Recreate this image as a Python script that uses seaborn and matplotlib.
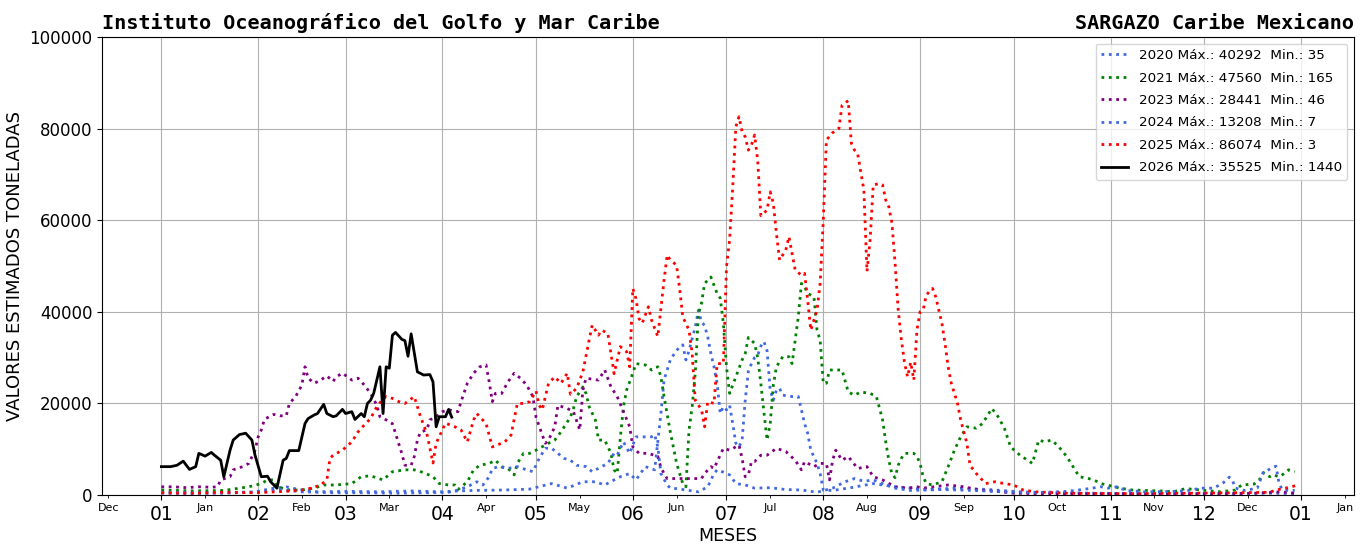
import pandas as pd
import numpy as np
import seaborn as sns
import matplotlib.pyplot as plt
import matplotlib.dates as mdates

# (day of year, estimated tonnes), day 0 = 1 Jan
s2020 = [(0, 400), (10, 300), (20, 500), (30, 700), (36, 1500), (40, 1800), (44, 1200), (50, 700),
         (60, 800), (70, 700), (80, 900), (90, 700), (95, 900), (100, 1000), (110, 1100), (118, 1300),
         (122, 2000), (125, 2500), (130, 1500), (135, 2900), (139, 2900), (142, 2200), (145, 3300),
         (147, 4000), (150, 4700), (152, 3300), (155, 6200), (158, 5500), (160, 17800), (161, 25100),
         (163, 29500), (165, 31600), (167, 32800), (168, 29500), (169, 31500), (171, 36700), (172, 40300),
         (173, 37800), (174, 37000), (175, 34500), (176, 30900), (177, 28000), (178, 24400), (179, 17800),
         (180, 19300), (181, 18600), (182, 19600), (183, 15600), (184, 11300), (185, 10500), (186, 12000),
         (187, 20700), (188, 27000), (189, 28700), (190, 30000), (191, 30500), (192, 32500), (193, 33500),
         (194, 31500), (195, 22900), (196, 20700), (197, 22900), (198, 23300), (199, 21800), (202, 21500),
         (204, 21500), (205, 18600), (206, 15600), (207, 13500), (208, 9800), (210, 6900), (211, 4700),
         (212, 1100), (215, 1000), (220, 1500), (228, 2500), (235, 1800), (245, 1200), (255, 1500),
         (265, 1200), (275, 700), (285, 500), (300, 400), (320, 300), (340, 300), (355, 400), (363, 300)]

s2021 = [(0, 1100), (10, 900), (20, 1000), (28, 1800), (32, 2500), (34, 3300), (36, 3300), (37, 1800),
         (41, 1100), (45, 1100), (49, 1500), (52, 2200), (56, 2200), (61, 2500), (64, 4000), (67, 4200),
         (71, 3300), (74, 5100), (78, 5500), (81, 5500), (84, 4900), (87, 4000), (89, 2500), (92, 2200),
         (94, 2200), (95, 1200), (98, 2900), (100, 5500), (102, 6500), (105, 6900), (107, 7600), (109, 6200),
         (111, 5800), (113, 4400), (114, 6900), (116, 9100), (118, 9100), (120, 9800), (124, 11300),
         (126, 12000), (128, 13800), (131, 17000), (132, 18900), (133, 21500), (135, 23600), (136, 22200),
         (137, 19300), (139, 16400), (140, 12000), (142, 12000), (144, 9100), (145, 5500), (146, 4700),
         (147, 12500), (148, 19300), (149, 22900), (151, 26600), (152, 28700), (155, 28400), (157, 27300),
         (159, 28000), (160, 25800), (161, 21500), (163, 13800), (165, 7000), (166, 4700), (167, 2500),
         (168, 1800), (169, 14200), (170, 19300), (171, 26600), (172, 39500), (173, 41900), (174, 46200),
         (176, 47600), (178, 44000), (179, 43000), (180, 37500), (181, 28000), (182, 22200), (184, 25800),
         (186, 29500), (187, 30900), (188, 34400), (190, 33100), (191, 30000), (192, 24400), (193, 18000),
         (194, 12000), (195, 15600), (196, 24000), (197, 28000), (199, 30200), (201, 30200), (202, 28700),
         (203, 33800), (204, 38900), (205, 46200), (206, 45500), (207, 44000), (209, 43300), (210, 36000),
         (211, 33800), (212, 24400), (213, 24400), (214, 27300), (218, 27300), (220, 22500), (222, 21800),
         (224, 22500), (227, 22200), (229, 21500), (230, 19000), (231, 16400), (232, 11600), (233, 7600),
         (234, 4500), (235, 3800), (236, 6500), (237, 8000), (238, 9100), (241, 9100), (242, 8400),
         (243, 6900), (244, 4000), (245, 2500), (247, 2200), (250, 2900), (252, 6200), (254, 9800),
         (256, 12700), (258, 14900), (261, 14600), (263, 15600), (266, 18900), (268, 17100), (270, 14600),
         (272, 10500), (275, 8700), (279, 6900), (281, 12000), (283, 11600), (285, 12000), (287, 10900),
         (290, 8400), (292, 6200), (294, 4000), (297, 3600), (300, 2900), (301, 2500), (304, 2000),
         (307, 1500), (311, 1100), (320, 900), (324, 700), (328, 1400), (333, 1100), (339, 700), (344, 1100),
         (346, 2200), (350, 2400), (352, 3600), (353, 4900), (355, 4000), (356, 4400), (358, 4000),
         (359, 4400), (361, 5500), (363, 5100)]

s2023 = [(0, 1800), (4, 1800), (8, 1600), (12, 1800), (16, 1700), (18, 1800), (19, 3300), (22, 4000),
         (23, 5500), (26, 6200), (28, 6900), (30, 9800), (31, 12700), (32, 14200), (33, 16500), (35, 17300),
         (36, 17600), (38, 17300), (40, 17300), (41, 20000), (43, 21500), (45, 24000), (46, 28000),
         (47, 25500), (49, 24400), (51, 25100), (53, 26000), (55, 24800), (56, 25800), (58, 26600),
         (61, 25100), (63, 25500), (65, 24000), (67, 22200), (69, 19600), (70, 17100), (72, 16400),
         (74, 15600), (76, 11300), (77, 9100), (78, 6500), (80, 6500), (81, 8400), (82, 12000), (83, 13800),
         (85, 14200), (86, 16400), (88, 17100), (90, 18200), (92, 18600), (95, 18200), (96, 20400),
         (98, 24400), (100, 26600), (102, 28000), (104, 28400), (105, 24700), (106, 20400), (107, 22200),
         (109, 22200), (111, 24700), (113, 26600), (115, 25500), (117, 24000), (119, 21500), (120, 17000),
         (122, 13100), (123, 11300), (124, 12000), (126, 14900), (127, 19600), (130, 18900), (132, 18200),
         (134, 14200), (135, 22900), (136, 25500), (140, 25100), (142, 27300), (144, 23600), (146, 21500),
         (148, 18200), (150, 14900), (151, 10500), (153, 9100), (156, 9100), (159, 8400), (160, 6000),
         (161, 4700), (162, 3600), (164, 3600), (168, 3600), (173, 3600), (174, 4700), (176, 6200),
         (177, 5800), (180, 10200), (182, 9800), (185, 10900), (186, 8000), (187, 4000), (188, 4400),
         (189, 7300), (190, 7300), (192, 8700), (194, 8700), (197, 10200), (200, 9500), (203, 7600),
         (205, 5500), (206, 7300), (209, 6200), (211, 6900), (213, 6900), (214, 3300), (215, 7600),
         (216, 9800), (218, 7600), (220, 8400), (223, 5800), (226, 6200), (228, 4000), (231, 3300),
         (235, 1800), (239, 1500), (242, 1800), (244, 1500), (252, 2200), (257, 1800), (262, 1100),
         (269, 700), (273, 400), (280, 300), (300, 250), (320, 300), (340, 300), (350, 400), (358, 700),
         (362, 500), (364, 300)]

s2024 = [(0, 600), (10, 500), (20, 400), (30, 600), (38, 1200), (45, 700), (55, 500), (65, 500), (75, 400),
         (85, 500), (92, 600), (95, 1100), (98, 1800), (101, 2900), (103, 2200), (105, 4000), (106, 5800),
         (108, 6200), (111, 5800), (114, 6200), (117, 5500), (119, 5100), (121, 8000), (123, 10200),
         (125, 10200), (127, 9100), (129, 8000), (131, 7600), (133, 6500), (136, 6200), (138, 5100),
         (141, 6200), (143, 6900), (145, 9100), (146, 8700), (148, 11600), (150, 9100), (152, 12700),
         (154, 12700), (157, 12700), (158, 13200), (159, 10500), (160, 4700), (162, 2200), (163, 1500),
         (165, 1400), (168, 1100), (172, 700), (175, 1800), (177, 4700), (178, 5500), (180, 5000),
         (182, 4400), (184, 2500), (187, 2200), (190, 1500), (195, 1600), (200, 1200), (205, 1100),
         (210, 600), (215, 1500), (219, 2900), (222, 3600), (225, 3000), (228, 3300), (231, 2500),
         (235, 1500), (240, 1000), (250, 1200), (260, 1000), (270, 700), (280, 500), (290, 800), (295, 1200),
         (301, 1800), (303, 1500), (306, 1800), (309, 1000), (315, 700), (325, 800), (329, 1000),
         (333, 1500), (337, 1500), (340, 2600), (342, 3900), (343, 3300), (344, 1500), (347, 1000),
         (351, 1500), (353, 5100), (354, 5300), (356, 6000), (357, 6300), (358, 2500), (359, 1200),
         (361, 1000), (363, 1000)]

s2025 = [(0, 500), (10, 400), (20, 600), (30, 500), (40, 800), (45, 1100), (48, 1500), (51, 2200), (53, 3300),
         (54, 8000), (55, 8700), (58, 9800), (61, 11600), (63, 13800), (65, 15300), (67, 16700), (69, 19300),
         (71, 21000), (72, 21500), (74, 21100), (76, 20400), (78, 20000), (81, 21500), (83, 17100),
         (85, 13500), (87, 7000), (88, 11300), (91, 15700), (94, 14900), (96, 14200), (98, 11600),
         (100, 16400), (101, 17800), (104, 15600), (106, 10500), (110, 11600), (112, 13100), (114, 20000),
         (116, 20000), (118, 20400), (120, 22700), (121, 19600), (122, 18600), (124, 24400), (126, 25800),
         (128, 24400), (130, 26600), (131, 22000), (133, 23300), (135, 26900), (137, 33800), (138, 37100),
         (140, 34900), (141, 36000), (143, 35300), (145, 26500), (147, 32400), (149, 31300), (150, 28000),
         (151, 45100), (152, 42900), (153, 38500), (154, 37500), (156, 41100), (157, 38200), (159, 34600),
         (161, 46900), (162, 52400), (163, 51300), (165, 50200), (166, 45000), (167, 38900), (169, 36000),
         (170, 30900), (171, 20700), (173, 18600), (174, 14900), (175, 20400), (177, 20000), (178, 28700),
         (180, 28700), (181, 49800), (182, 55700), (183, 67300), (184, 80400), (185, 82600), (186, 79300),
         (187, 78200), (188, 75300), (189, 76400), (190, 78600), (191, 73100), (192, 61000), (194, 62200),
         (195, 66200), (196, 63700), (197, 57100), (198, 51300), (200, 53500), (201, 56400), (202, 52800),
         (203, 49100), (205, 48000), (206, 48400), (207, 42600), (208, 36000), (210, 40400), (211, 46200),
         (212, 60000), (213, 77500), (215, 79100), (217, 80000), (218, 85100), (220, 86100), (221, 76800),
         (222, 75300), (223, 74600), (225, 66600), (226, 48800), (227, 55700), (228, 67700), (230, 68000),
         (231, 67700), (232, 64400), (233, 62900), (234, 59300), (235, 50600), (236, 40400), (237, 34000),
         (238, 29000), (239, 25800), (240, 29000), (241, 25100), (242, 36000), (243, 40000), (244, 40400),
         (245, 43700), (247, 45100), (248, 43300), (250, 37500), (251, 33100), (252, 28000), (253, 24400),
         (255, 20000), (256, 16400), (258, 11300), (259, 6500), (261, 4700), (264, 2500), (267, 2900),
         (270, 2500), (273, 2200), (276, 1100), (280, 700), (290, 400), (310, 300), (330, 400), (345, 500),
         (355, 600), (357, 1100), (360, 1500), (362, 1800), (364, 2200)]

s2026 = [(0, 6200), (3, 6200), (5, 6500), (7, 7400), (9, 5600), (11, 6200), (12, 9100), (14, 8500),
         (16, 9300), (17, 8700), (19, 7600), (20, 4000), (22, 9800), (23, 12000), (25, 13200), (27, 13500),
         (29, 12000), (30, 8700), (32, 4000), (34, 4100), (35, 2900), (37, 1500), (39, 7600), (40, 8000),
         (41, 9700), (44, 9700), (46, 15600), (47, 16700), (49, 17500), (50, 17800), (52, 19800), (53, 17800),
         (55, 17100), (56, 17300), (58, 18700), (59, 17800), (61, 18200), (62, 16500), (64, 17800),
         (65, 17100), (66, 20000), (67, 20700), (68, 22200), (70, 28000), (71, 17800), (72, 28000),
         (73, 27700), (74, 34900), (75, 35500), (77, 34000), (78, 33700), (79, 30300), (80, 35200),
         (82, 26900), (84, 26200), (86, 26300), (87, 24700), (88, 14900), (89, 17100), (91, 17100),
         (92, 18700), (93, 17000)]

years = ['2020', '2021', '2023', '2024', '2025', '2026']
maxs = [40292, 47560, 28441, 13208, 86074, 35525]
mins = [35, 165, 46, 7, 3, 1440]
colors = ['royalblue', 'green', 'purple', 'royalblue', 'red', 'black']
series = [s2020, s2021, s2023, s2024, s2025, s2026]

base = pd.Timestamp('2026-01-01')

fig, ax = plt.subplots(figsize=(13.68, 5.44), dpi=100)
fig.subplots_adjust(left=0.0746, right=0.9898, bottom=0.090, top=0.932)

for yr, s, c, mx, mn in zip(years, series, colors, maxs, mins):
    df = pd.DataFrame(s, columns=['day', 'ton'])
    df['fecha'] = base + pd.to_timedelta(df['day'], unit='D')
    ls = '-' if yr == '2026' else ':'
    sns.lineplot(data=df, x='fecha', y='ton', ax=ax, color=c, linestyle=ls, linewidth=2,
                 label=f'{yr} Máx.: {mx}  Min.: {mn}')

ax.set_xlim(pd.Timestamp('2025-12-13'), pd.Timestamp('2027-01-18'))
ax.set_ylim(0, 100000)
ax.set_yticks(np.arange(0, 100001, 20000))

ax.xaxis.set_major_locator(mdates.MonthLocator())
ax.xaxis.set_major_formatter(mdates.DateFormatter('%m'))
ax.xaxis.set_minor_locator(mdates.MonthLocator(bymonthday=15))
ax.xaxis.set_minor_formatter(mdates.DateFormatter('%b'))
ax.tick_params(axis='x', which='major', labelsize=13.5)
ax.tick_params(axis='x', which='minor', labelsize=8)
ax.tick_params(axis='y', labelsize=12)

ax.grid(True, which='major', color='#b0b0b0', linewidth=0.8)
ax.set_xlabel('MESES', fontsize=12.5, labelpad=2)
ax.set_ylabel('VALORES ESTIMADOS TONELADAS', fontsize=13)

ax.set_title('Instituto Oceanográfico del Golfo y Mar Caribe', loc='left',
             fontfamily='monospace', fontweight='bold', fontsize=14.5)
ax.set_title('SARGAZO Caribe Mexicano', loc='right',
             fontfamily='monospace', fontweight='bold', fontsize=14.5)

ax.legend(loc='upper right', fontsize=9.7, handlelength=2.0, labelspacing=0.7)

plt.savefig('out.png', dpi=100)
